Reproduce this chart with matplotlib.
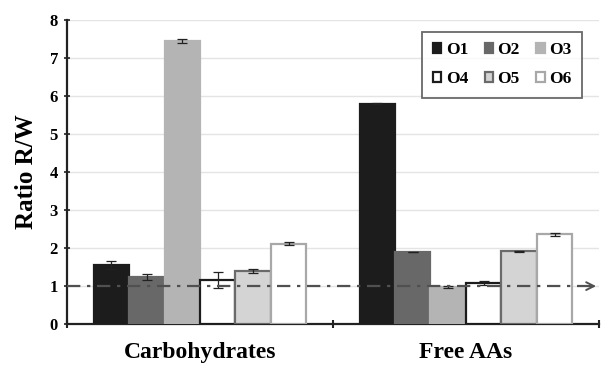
import numpy as np
import matplotlib
matplotlib.use("Agg")
import matplotlib.pyplot as plt

categories = ["Carbohydrates", "Free AAs"]
series = ["O1", "O2", "O3", "O4", "O5", "O6"]
values = {
    "O1": [1.55, 5.80],
    "O2": [1.23, 1.90],
    "O3": [7.45, 0.98],
    "O4": [1.16, 1.08],
    "O5": [1.39, 1.92],
    "O6": [2.11, 2.36],
}
errors = {
    "O1": [0.10, 0.02],
    "O2": [0.08, 0.01],
    "O3": [0.06, 0.02],
    "O4": [0.21, 0.06],
    "O5": [0.05, 0.01],
    "O6": [0.04, 0.04],
}
fills = {"O1": "#1c1c1c", "O2": "#686868", "O3": "#b4b4b4",
         "O4": "#ffffff", "O5": "#d4d4d4", "O6": "#ffffff"}
edges = {"O1": "#1c1c1c", "O2": "#686868", "O3": "#b4b4b4",
         "O4": "#1c1c1c", "O5": "#6a6a6a", "O6": "#a8a8a8"}

plt.rcParams["font.family"] = ["Liberation Serif", "DejaVu Serif"]
plt.rcParams["font.weight"] = "bold"

fig = plt.figure(figsize=(6.01, 3.65), dpi=100)
ax = fig.add_axes([0.1115, 0.112, 0.885, 0.833])

width = 0.8 / len(series)
centers = np.arange(len(categories)) + 0.5
handles = {}
for i, s in enumerate(series):
    x = centers - 0.4 + width * (i + 0.5)
    handles[s] = ax.bar(x, values[s], width=width, color=fills[s],
                        edgecolor=edges[s], linewidth=1.6, label=s, zorder=3)
    ax.errorbar(x, values[s], yerr=errors[s], fmt="none", ecolor="#222222",
                elinewidth=0.9, capsize=3.5, capthick=0.9, zorder=4)

# reference line at ratio 1
ax.plot([0, 1.97], [1, 1], linestyle=(0, (6, 3, 1.5, 3)), color="#505050",
        linewidth=1.6, zorder=5)
ax.annotate("", xy=(2.0, 1), xytext=(1.95, 1),
            arrowprops=dict(arrowstyle="->", color="#505050", lw=1.4,
                            mutation_scale=14), zorder=5)

ax.set_xlim(0, 2)
ax.set_ylim(0, 8)
ax.set_yticks(range(0, 9))
ax.yaxis.grid(True, color="#e4e4e4", linewidth=1.0, zorder=0)
ax.set_axisbelow(True)

ax.set_xticks([0, 1, 2])
ax.set_xticklabels([])
ax.set_xticks(centers, minor=True)
ax.set_xticklabels(categories, minor=True, fontsize=17, fontweight="bold")
ax.tick_params(axis="x", which="minor", length=0, pad=13)
ax.tick_params(axis="x", which="major", direction="inout", length=6,
               width=1.5, color="#222222")
ax.tick_params(axis="y", direction="inout", length=5, width=1.2,
               color="#222222", labelsize=12, pad=4)
for lab in ax.get_yticklabels():
    lab.set_fontweight("bold")

for side in ["top", "right"]:
    ax.spines[side].set_visible(False)
for side in ["left", "bottom"]:
    ax.spines[side].set_linewidth(1.6)
    ax.spines[side].set_color("#222222")

ax.set_ylabel("Ratio R/W", fontsize=18, fontweight="bold", labelpad=8)

# row-major legend order: O1 O2 O3 / O4 O5 O6
order = ["O1", "O4", "O2", "O5", "O3", "O6"]
leg = ax.legend([handles[s] for s in order], order, ncol=3, loc="upper right",
                bbox_to_anchor=(0.985, 0.99), fontsize=12.5, frameon=True,
                fancybox=False, handlelength=0.5, handleheight=0.5,
                handletextpad=0.25, columnspacing=0.95, borderpad=0.6,
                labelspacing=0.75, edgecolor="#444444")
leg.get_frame().set_linewidth(1.3)
leg.set_zorder(6)
for t in leg.get_texts():
    t.set_fontweight("bold")

fig.savefig("out.png", dpi=100)
